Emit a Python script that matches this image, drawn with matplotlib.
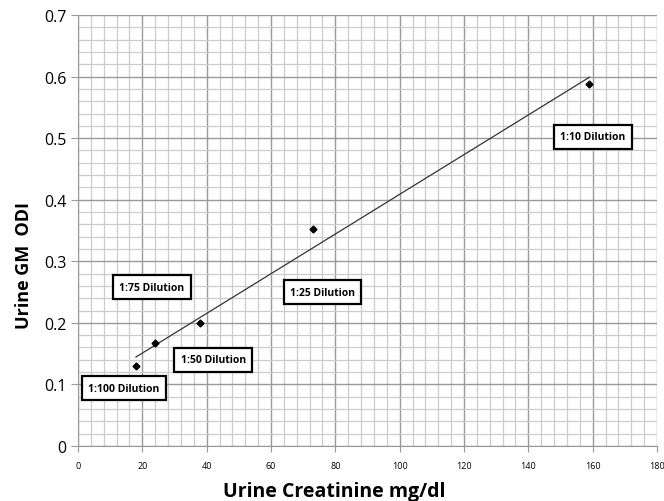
import numpy as np
import matplotlib
matplotlib.use("Agg")
import matplotlib.pyplot as plt

# data
creatinine = [18, 24, 38, 73, 159]
odi = [0.13, 0.167, 0.2, 0.353, 0.588]
label_text = ["1:100 Dilution", "1:50 Dilution", "1:75 Dilution", "1:25 Dilution", "1:10 Dilution"]
label_x = [14.3, 42, 23, 76, 160]
label_y = [0.094, 0.14, 0.258, 0.25, 0.502]

plt.rcParams['font.family'] = ['Open Sans', 'DejaVu Sans']

fig = plt.figure(figsize=(6.64, 5.02), dpi=100)
ax = fig.add_axes([0.1175, 0.1096, 0.872, 0.8584])

ax.set_xlim(0, 180)
ax.set_ylim(0, 0.7)
ax.set_xticks(np.arange(0, 181, 20))
ax.set_yticks(np.arange(0, 0.71, 0.1))
ax.set_xticks(np.arange(0, 181, 4), minor=True)
ax.set_yticks(np.arange(0, 0.701, 0.02), minor=True)
ax.set_yticklabels(["0"] + ["%.1f" % v for v in np.arange(0.1, 0.71, 0.1)])
ax.grid(which='minor', color='#cccccc', linewidth=0.9)
ax.grid(which='major', color='#999999', linewidth=1.0)
ax.set_axisbelow(True)
ax.tick_params(axis='x', which='major', labelsize=6.5, length=4, color='#999999', pad=7)
ax.tick_params(axis='y', which='major', labelsize=11.5, length=5, color='#999999')
ax.tick_params(which='minor', length=0)
for s in ['top', 'right']:
    ax.spines[s].set_visible(False)
for s in ['left', 'bottom']:
    ax.spines[s].set_color('#999999')

# linear trend line
k, b = np.polyfit(creatinine, odi, 1)
xs = np.array([min(creatinine), max(creatinine)])
ax.plot(xs, k * xs + b, color='#333333', linewidth=0.9)
ax.plot(creatinine, odi, linestyle='none', marker='D', markersize=3.5, color='black')

for t, x, y in zip(label_text, label_x, label_y):
    ax.text(x, y, t, fontsize=7.5, fontweight='bold', ha='center', va='center',
            bbox=dict(boxstyle='square,pad=0.6', facecolor='white', edgecolor='black', linewidth=1.6))

ax.set_xlabel("Urine Creatinine mg/dl", fontsize=14, fontweight='bold')
ax.xaxis.set_label_coords(0.442, -0.082)
ax.set_ylabel("Urine GM  ODI", fontsize=13, fontweight='bold')
ax.yaxis.set_label_coords(-0.078, 0.422)

fig.savefig("out.png", dpi=100)
